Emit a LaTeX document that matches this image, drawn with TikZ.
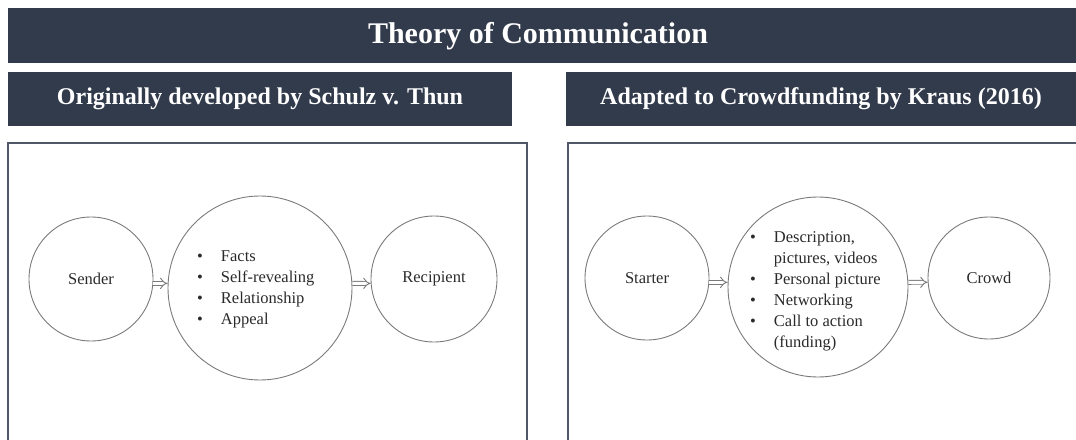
\documentclass[tikz,border=0pt]{standalone}
\usepackage{fontspec}
\setmainfont{Liberation Serif}
\usetikzlibrary{arrows.meta}
\definecolor{barblue}{HTML}{323B4C}
\definecolor{frameline}{HTML}{4F5768}
\definecolor{ringline}{HTML}{7A7A7A}
\definecolor{inktext}{HTML}{2A2A2A}
\begin{document}
\begin{tikzpicture}[x=1pt,y=-1pt,
  bar/.style={fill=barblue, draw=none},
  titletext/.style={text=white, font=\bfseries\fontsize{30}{34}\selectfont},
  subtext/.style={text=white, font=\bfseries\fontsize{24}{28}\selectfont},
  frame/.style={draw=frameline, line width=2pt},
  ring/.style={circle, draw=ringline, line width=0.9pt, inner sep=0pt,
    font=\fontsize{16.5}{21}\selectfont, text=inktext},
  listtext/.style={font=\fontsize{16.5}{21}\selectfont, text=inktext, inner sep=0pt},
  flow/.style={draw=ringline, line width=0.9pt, double=white,
    double distance=3pt, -{Implies}},
]
\useasboundingbox (0,0) rectangle (1076,439);
\clip (0,0) rectangle (1076,439);

% header bars
\path[bar] (8,8) rectangle (1076,63);
\node[titletext] (title) at (538,36) {Theory of Communication};
\path[bar] (8,72) rectangle (512,126);
\node[subtext] (subleft) at (260,99) {Originally developed by Schulz v. Thun};
\path[bar] (566,72) rectangle (1076,126);
\node[subtext] (subright) at (821,99) {Adapted to Crowdfunding by Kraus (2016)};

% content frames
\draw[frame] (8,143) rectangle (527,460);
\draw[frame] (568,143) rectangle (1090,460);

% original model
\node[ring, minimum size=124pt] (sender) at (91,279) {Sender};
\node[ring, minimum size=184pt] (msgA) at (260,288) {};
\node[ring, minimum size=126pt] (recip) at (434,279) {Recipient};
\node[listtext, anchor=west] (listA) at (197,288.5) {%
  \begin{tabular}{@{}l@{\hspace{18pt}}l@{}}
  \textbullet & Facts\\
  \textbullet & Self-revealing\\
  \textbullet & Relationship\\
  \textbullet & Appeal
  \end{tabular}};
\draw[flow] (sender.-4) -- (sender.-4 -| msgA.west);
\draw[flow] (msgA.east |- sender.-4) -- (recip.184);

% crowdfunding model
\node[ring, minimum size=124pt] (starter) at (647,278) {Starter};
\node[ring, minimum size=180pt] (msgB) at (818,287) {};
\node[ring, minimum size=122pt] (crowd) at (989,278) {Crowd};
\node[listtext, anchor=west] (listB) at (750,290.5) {%
  \begin{tabular}{@{}l@{\hspace{18pt}}l@{}}
  \textbullet & Description,\\
              & pictures, videos\\
  \textbullet & Personal picture\\
  \textbullet & Networking\\
  \textbullet & Call to action\\
              & (funding)
  \end{tabular}};
\draw[flow] (starter.-4) -- (starter.-4 -| msgB.west);
\draw[flow] (msgB.east |- starter.-4) -- (crowd.184);
\end{tikzpicture}
\end{document}
